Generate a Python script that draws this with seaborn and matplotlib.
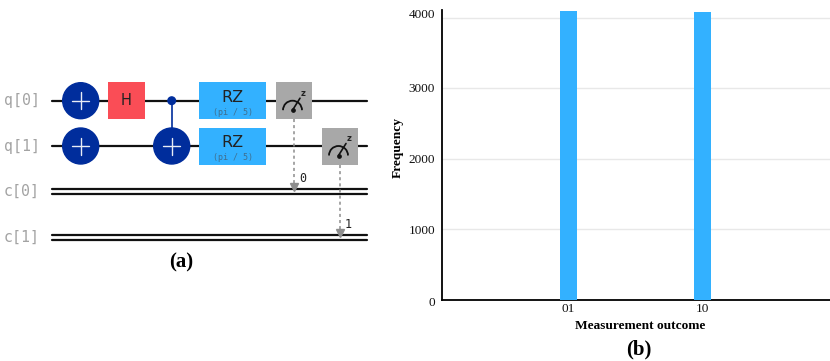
import matplotlib
matplotlib.use("Agg")
import matplotlib.pyplot as plt
from matplotlib.patches import Rectangle, Circle, Arc
from matplotlib.transforms import ScaledTranslation
import pandas as pd
import seaborn as sns

# Histogram data
outcomes = ["01", "10"]
counts = [4100, 4085]
y_ticks = [0, 1000, 2000, 3000, 4000]

# Circuit description
wire_names = ["q[0]", "q[1]", "c[0]", "c[1]"]
x_gates = [0, 1]
h_gates = [0]
rz_gates = [0, 1]
measures = [(0, 2, "0"), (1, 3, "1")]

sns.set_theme(style="white")
plt.rcParams["font.family"] = ["Liberation Serif", "DejaVu Serif"]

W, H = 830, 361
fig = plt.figure(figsize=(W / 100, H / 100), dpi=100)

# ---- (a) circuit, axes in pixel units ----
ax = fig.add_axes([0, 0, 1, 1])
ax.set_xlim(0, W)
ax.set_ylim(H, 0)
ax.axis("off")

wire_y = [100.7, 146, 191.5, 237.5]
wire_x0, wire_x1 = 52, 367
navy = "#002D9C"
blue = "#33B1FF"
red = "#FA4D56"
grey = "#A8A8A8"

for i, name in enumerate(wire_names):
    ax.text(39.5, wire_y[i], name, family="DejaVu Sans Mono", fontsize=10.7,
            color="#a3a3a3", ha="right", va="center")
    if name.startswith("q"):
        ax.plot([wire_x0, wire_x1], [wire_y[i]] * 2, color="#111111", lw=1.6, zorder=1)
    else:
        for off in (-2.5, 2.5):
            ax.plot([wire_x0, wire_x1], [wire_y[i] + off] * 2, color="#111111", lw=1.6, zorder=1)


def plus_gate(cx, cy):
    ax.add_patch(Circle((cx, cy), 18, color=navy, zorder=3))
    ax.plot([cx - 8.5, cx + 8.5], [cy, cy], color="#e8ecf5", lw=1.0, zorder=4)
    ax.plot([cx, cx], [cy - 8.5, cy + 8.5], color="#e8ecf5", lw=1.0, zorder=4)


def box(x, cy, w, color):
    ax.add_patch(Rectangle((x, cy - 18.5), w, 37, color=color, lw=0, zorder=3))


for q in x_gates:
    plus_gate(80.7, wire_y[q])

for q in h_gates:
    box(108, wire_y[q], 37, red)
    ax.text(126.5, wire_y[q], "H", family="DejaVu Sans", fontsize=10.5, color="#222222",
            ha="center", va="center", zorder=4)

# cnot
ax.plot([171.7, 171.7], [wire_y[0], wire_y[1]], color=navy, lw=1.2, zorder=2)
ax.add_patch(Circle((171.7, wire_y[0]), 3.8, color=navy, zorder=3))
plus_gate(171.7, wire_y[1])

for q in rz_gates:
    box(199, wire_y[q], 67, blue)
    ax.text(232.5, wire_y[q] - 3.7, "RZ", family="DejaVu Sans", fontsize=11.5, color="#222222",
            ha="center", va="center", zorder=4)
    ax.text(232.5, wire_y[q] + 11.6, "(pi / 5)", family="DejaVu Sans Mono", fontsize=6,
            color="#3f6f8f", ha="center", va="center", zorder=4)

for (q, c, label), mx in zip(measures, [294, 340]):
    y = wire_y[q]
    target = wire_y[c] - 4.5
    ax.plot([mx, mx], [y + 18.5, target], color="#8d8d8d", lw=1.1, ls=(0, (2, 2)), zorder=2)
    ax.plot([mx], [target], marker="v", ms=5.5, color="#8d8d8d", zorder=5, clip_on=False)
    box(mx - 18, y, 36, grey)
    ax.add_patch(Arc((mx - 1.5, y + 9.5), 19, 19, theta1=180, theta2=360, color="#111111", lw=1.3, zorder=4))
    ax.plot([mx - 1.5, mx + 6], [y + 9.5, y - 2.5], color="#111111", lw=1.2, zorder=4)
    ax.plot([mx - 1.5], [y + 9.5], marker="o", ms=2.4, color="#111111", zorder=4)
    ax.text(mx + 8.7, y - 7.5, "z", family="DejaVu Sans", fontsize=6, fontweight="bold",
            color="#222222", ha="center", va="center", zorder=4)
    ax.text(mx + 8.5, target - 9, label, family="DejaVu Sans Mono", fontsize=8.5,
            color="#222222", ha="center", va="center", zorder=5)

ax.text(181.5, 262, "(a)", fontsize=15, fontweight="bold", color="black", ha="center", va="center")
ax.text(639, 349, "(b)", fontsize=15, fontweight="bold", color="black", ha="center", va="center")

# ---- (b) histogram ----
left, right, top, bottom = 442, 830, 10, 300
bx = fig.add_axes([left / W, 1 - bottom / H, (right - left) / W, (bottom - top) / H])
df = pd.DataFrame({"outcome": outcomes, "count": counts})
sns.barplot(data=df, x="outcome", y="count", color=blue, saturation=1, width=0.127,
            linewidth=0, ax=bx, zorder=3)
bx.set_xlim(-0.944, 1.95)
bx.set_ylim(0, 4108)
bx.set_yticks(y_ticks)
bx.set_yticklabels([str(v) for v in y_ticks])
bx.grid(axis="y", color="#e8e8e8", lw=1)
bx.set_axisbelow(True)
bx.patch.set_alpha(0)
for side in ("top", "right"):
    bx.spines[side].set_visible(False)
for side in ("left", "bottom"):
    bx.spines[side].set_color("black")
    bx.spines[side].set_linewidth(1.3)
bx.tick_params(axis="y", length=0, labelsize=9.5, labelcolor="#111111", pad=5)
bx.tick_params(axis="x", length=0, labelsize=9.5, labelcolor="#111111", pad=2.5)
bx.set_xlabel("Measurement outcome", fontsize=9.6, fontweight="bold", color="black")
bx.set_ylabel("Frequency", fontsize=9.6, fontweight="bold", color="black")
bx.xaxis.set_label_coords((640 - left) / (right - left), -(325.7 - bottom) / (bottom - top), bx.transAxes)
bx.xaxis.label.set_va("center")
bx.yaxis.set_label_coords(-(442 - 398) / (right - left), (bottom - 148) / (bottom - top), bx.transAxes)
bx.yaxis.label.set_va("center")

# y labels sit a little off their gridlines in the reference
nudges_px = [-2, 0, 0, 1, 4.5]
for lab, dy in zip(bx.get_yticklabels(), nudges_px):
    lab.set_transform(lab.get_transform() + ScaledTranslation(0, dy / 100, fig.dpi_scale_trans))

fig.savefig("out.png", dpi=100)
